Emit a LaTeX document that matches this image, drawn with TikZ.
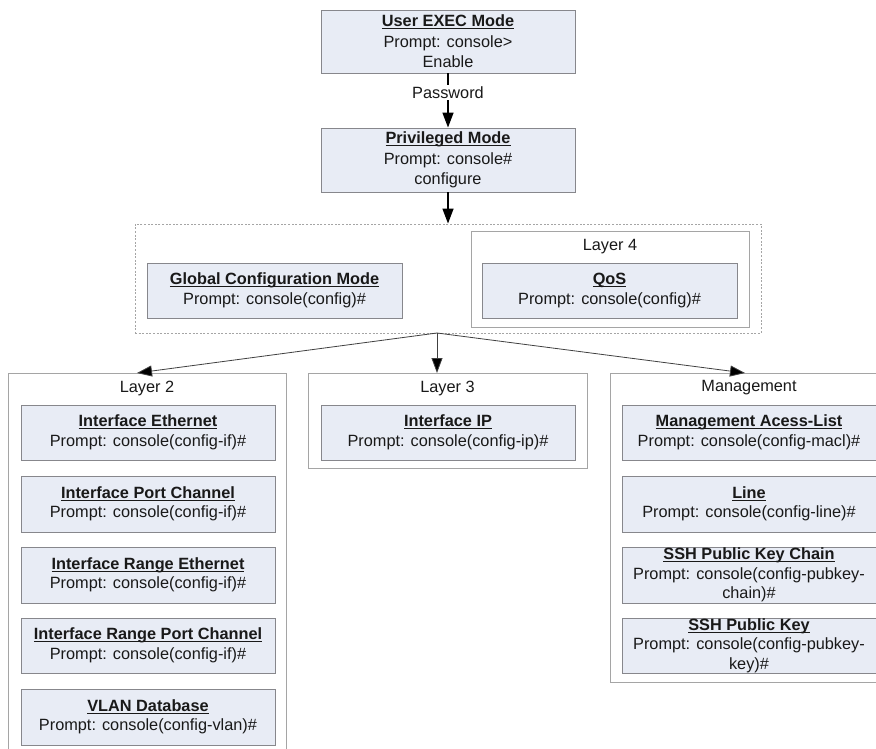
\documentclass[tikz,border=0pt]{standalone}
\usepackage{fontspec}
\setmainfont{Liberation Sans}
\usetikzlibrary{arrows.meta}
\definecolor{boxfill}{RGB}{232,236,245}
\definecolor{boxline}{RGB}{135,135,140}
\definecolor{grpline}{RGB}{165,165,165}
\definecolor{txt}{RGB}{25,25,25}
\newcommand{\ttl}[1]{\setbox0\hbox{\textbf{#1}}\rlap{\rule[-2.4pt]{\wd0}{1pt}}\box0}
\begin{document}
\begin{tikzpicture}[x=1pt,y=-1pt,
  font=\fontsize{16.3}{19.5}\selectfont, text=txt,
  modebox/.style={draw=boxline, fill=boxfill, line width=0.9pt, align=center,
    inner sep=0pt, minimum width=254pt, minimum height=55pt},
  grpbox/.style={draw=grpline, fill=white, line width=0.9pt, inner sep=0pt},
  lbl/.style={inner sep=0pt},
  mainarr/.style={line width=1.5pt, draw=black, -{Triangle[length=15pt,width=11pt]}},
  forkarr/.style={line width=0.8pt, draw=black!75, -{Triangle[length=15pt,width=11pt,fill=black]}}
]
\useasboundingbox (0,0) rectangle (876,749);
\clip (0,0) rectangle (876,749);

% top mode boxes
\node[modebox, minimum height=63pt] (ue) at (448,41.5)
  {\ttl{User EXEC Mode}\\[1pt]Prompt: console>\\[1pt]Enable};
\node[modebox, minimum height=64pt] (pm) at (448,160)
  {\ttl{Privileged Mode}\\[1pt]Prompt: console\#\\[1pt]configure};

% dashed configuration group
\node[draw=grpline, line width=0.9pt, dash pattern=on 2pt off 1.6pt,
  minimum width=626pt, minimum height=109pt, inner sep=0pt] (cfg) at (448,278.5) {};
\node[grpbox, minimum width=278pt, minimum height=96pt] (l4) at (610,279) {};
\node[lbl] (l4t) at (610,247) {Layer 4};
\node[modebox, minimum width=255pt] (gc) at (274.5,290.5)
  {\ttl{Global Configuration Mode}\\Prompt: console(config)\#};
\node[modebox, minimum width=255pt] (qos) at (609.5,290.5)
  {\ttl{QoS}\\Prompt: console(config)\#};

% arrows at top
\draw[mainarr] (ue) -- node[pos=0.36, fill=white, inner sep=1.5pt] (pw) {Password} (pm);
\draw[mainarr] (pm) -- (cfg.north -| pm);

% lower groups
\node[grpbox, minimum width=278pt, minimum height=387pt] (l2) at (147,566.5) {};
\node[grpbox, minimum width=279pt, minimum height=95pt] (l3) at (447.5,420.5) {};
\node[grpbox, minimum width=278pt, minimum height=309pt] (mg) at (749,527.5) {};
\node[lbl] (l2t) at (147,388) {Layer 2};
\node[lbl] (l3t) at (447.5,388) {Layer 3};
\node[lbl] (mgt) at (749,388) {Management};

\coordinate (fork) at (437,333);
\coordinate (t2) at (137,373);
\coordinate (t3) at (437,373);
\coordinate (tm) at (745,373);
\draw[forkarr] (fork) -- (t2);
\draw[forkarr] (fork) -- (t3);
\draw[forkarr] (fork) -- (tm);

% Layer 2 boxes
\node[modebox] (ie) at (148,432.5) {\ttl{Interface Ethernet}\\Prompt: console(config-if)\#};
\node[modebox, minimum height=56pt] (ipc) at (148,504) {\ttl{Interface Port Channel}\\Prompt: console(config-if)\#};
\node[modebox, minimum height=56pt] (ire) at (148,575) {\ttl{Interface Range Ethernet}\\Prompt: console(config-if)\#};
\node[modebox] (irpc) at (148,645.5) {\ttl{Interface Range Port Channel}\\Prompt: console(config-if)\#};
\node[modebox, minimum height=56pt] (vlan) at (148,717) {\ttl{VLAN Database}\\Prompt: console(config-vlan)\#};

% Layer 3 box
\node[modebox] (ip) at (448,432.5) {\ttl{Interface IP}\\Prompt: console(config-ip)\#};

% Management boxes
\node[modebox] (macl) at (749,432.5) {\ttl{Management Acess-List}\\Prompt: console(config-macl)\#};
\node[modebox, minimum height=56pt] (line) at (749,504) {\ttl{Line}\\Prompt: console(config-line)\#};
\node[modebox, minimum height=56pt] (sshc) at (749,575)
  {\ttl{SSH Public Key Chain}\\Prompt: console(config-pubkey-\\chain)\#};
\node[modebox] (sshk) at (749,645.5)
  {\ttl{SSH Public Key}\\Prompt: console(config-pubkey-\\key)\#};
\end{tikzpicture}
\end{document}
